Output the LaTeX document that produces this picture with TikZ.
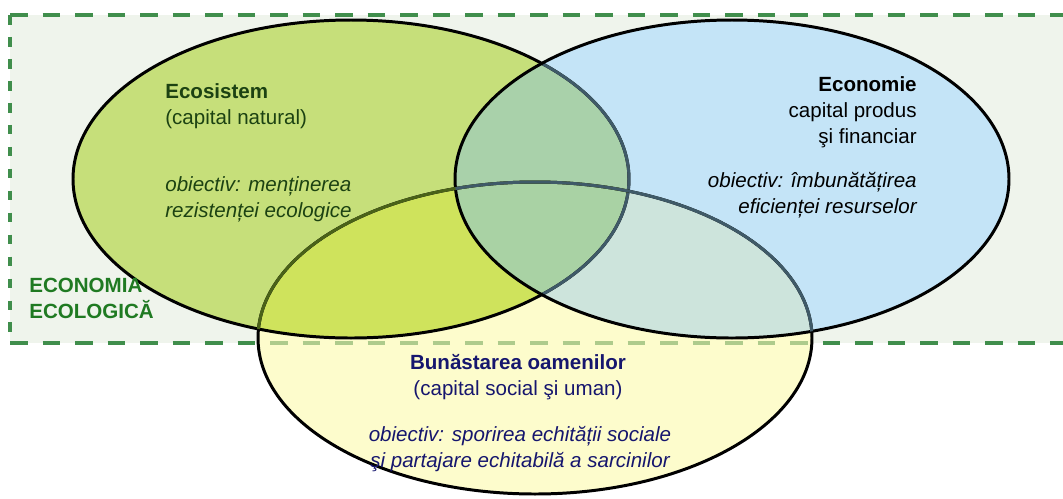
\documentclass[tikz,border=0pt]{standalone}
\usepackage{fontspec}
\setmainfont{Liberation Sans}
\usetikzlibrary{positioning}

\definecolor{framefill}{HTML}{EFF4EC}
\definecolor{frameline}{HTML}{408E4C}
\definecolor{framepale}{HTML}{AECB8C}
\definecolor{ecofill}{HTML}{C6DF7A}
\definecolor{econfill}{HTML}{C4E4F7}
\definecolor{wellfill}{HTML}{FDFCCC}
\definecolor{ecoecon}{HTML}{A9D1AA}
\definecolor{ecowell}{HTML}{CFE35C}
\definecolor{econwell}{HTML}{CDE4DC}
\definecolor{allthree}{HTML}{A9D2A4}
\definecolor{ringslate}{HTML}{3F5A68}
\definecolor{ringolive}{HTML}{4A6218}
\definecolor{ecotext}{HTML}{1C4212}
\definecolor{welltext}{HTML}{16166E}
\definecolor{frametext}{HTML}{1F7A22}

% the three circles
\newcommand{\ecopath}{(351,179) ellipse [x radius=278, y radius=159]}
\newcommand{\econpath}{(732,179) ellipse [x radius=277, y radius=159]}
\newcommand{\wellpath}{(535,338) ellipse [x radius=277, y radius=156]}

\tikzset{
  ring/.style={draw=black, line width=1.7pt},
  frame hline/.style={draw=frameline, line width=2pt, dash pattern=on 10pt off 8.5pt},
  frame vline/.style={draw=frameline, line width=2pt, dash pattern=on 5.5pt off 7pt},
  txt/.style={inner sep=0pt, font=\fontsize{11.7}{14.6}\selectfont},
}

\begin{document}
\begin{tikzpicture}[x=0.02cm, y=-0.02cm]
    \useasboundingbox (0,0) rectangle (1063,498);

    % frame
    \coordinate (fnw) at (10,15);
    \coordinate (fsw) at (10,343);
    \coordinate (fne) at (1090,15);
    \coordinate (fse) at (1090,343);
    \fill[framefill] (fnw) rectangle (fse);
    \draw[frame hline] (fnw) -- (fne);
    \draw[frame hline] (fsw) -- (fse);
    \draw[frame vline] (fnw) -- (fsw);

    % fills
    \fill[ecofill] \ecopath;
    \fill[econfill] \econpath;
    \fill[wellfill] \wellpath;
    \begin{scope} \clip \ecopath; \fill[ecoecon] \econpath; \end{scope}
    \begin{scope} \clip \ecopath; \fill[ecowell] \wellpath; \end{scope}
    \begin{scope} \clip \econpath; \fill[econwell] \wellpath; \end{scope}
    \begin{scope} \clip \ecopath; \clip \econpath; \fill[allthree] \wellpath; \end{scope}
    \begin{scope} \clip \wellpath; \draw[frame hline, draw=framepale] (fsw) -- (fse); \end{scope}

    % outlines
    \draw[ring] \ecopath;
    \begin{scope} \clip \econpath; \draw[ring, draw=ringslate] \ecopath; \end{scope}
    \draw[ring] \econpath;
    \draw[ring] \wellpath;
    \begin{scope} \clip \ecopath; \draw[ring, draw=ringolive] \wellpath; \end{scope}
    \begin{scope} \clip \econpath; \draw[ring, draw=ringslate] \wellpath; \end{scope}

    % texts (anchored on the baseline of the last line)
    \node[txt, text=ecotext, align=left, anchor=base west] (ecohead) at (165,124)
        {\textbf{Ecosistem}\\(capital natural)};
    \node[txt, text=ecotext, align=left, anchor=base west] (ecogoal) at (165,217)
        {\itshape obiectiv: menținerea\\\itshape rezistenței ecologice};
    \node[txt, align=right, anchor=base east] (econhead) at (917,143)
        {\textbf{Economie}\\capital produs\\şi financiar};
    \node[txt, align=right, anchor=base east] (econgoal) at (917,213)
        {\itshape obiectiv: îmbunătățirea\\\itshape eficienței resurselor};
    \node[txt, text=welltext, align=center, anchor=base] (wellhead) at (518,395)
        {\textbf{Bunăstarea oamenilor}\\(capital social şi uman)};
    \node[txt, text=welltext, align=center, anchor=base] (wellgoal) at (520,467)
        {\itshape obiectiv: sporirea echității sociale\\\itshape şi partajare echitabilă a sarcinilor};
    \node[txt, text=frametext, align=left, anchor=base west, font=\fontsize{11.7}{14.6}\selectfont\bfseries] (framelabel) at (29,318)
        {ECONOMIA\\ECOLOGICĂ};
\end{tikzpicture}
\end{document}
